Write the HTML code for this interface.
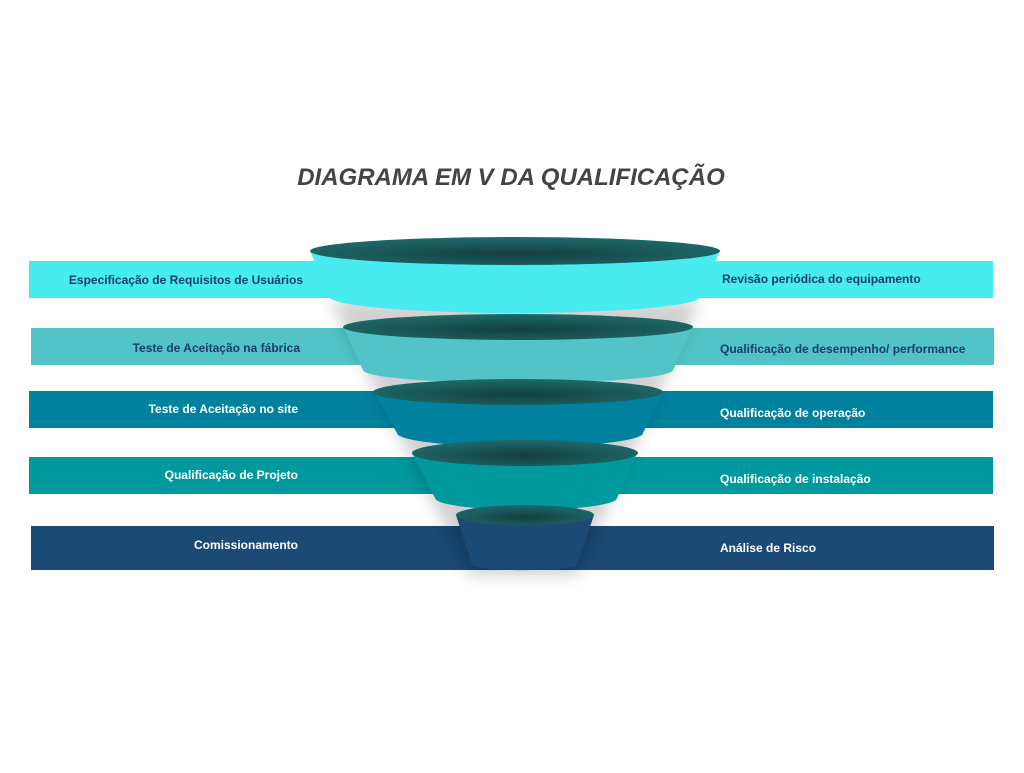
<!DOCTYPE html>
<html><head><meta charset="utf-8"><style>
body{margin:0;background:#fff;width:1024px;height:768px;overflow:hidden;font-family:"Liberation Sans",sans-serif}
</style></head><body>
<svg width="1024" height="768" viewBox="0 0 1024 768" xmlns="http://www.w3.org/2000/svg">
<defs>
<radialGradient id="tg" cx="0.5" cy="0.6" r="0.6">
<stop offset="0" stop-color="#123f40"/><stop offset="1" stop-color="#1f6a6b"/></radialGradient>
<filter id="sh" x="-20%" y="-20%" width="140%" height="140%"><feGaussianBlur stdDeviation="8"/></filter>
</defs>
<text x="511" y="185" text-anchor="middle" font-size="24" font-weight="bold" font-style="italic" fill="#444">DIAGRAMA EM V DA QUALIFICAÇÃO</text>
<rect x="29" y="261" width="964" height="37" fill="#48ECF0"/>
<rect x="31" y="328" width="963" height="37" fill="#52C4C8"/>
<rect x="29" y="391" width="964" height="37" fill="#00819E"/>
<rect x="29" y="457" width="964" height="37" fill="#00999E"/>
<rect x="31" y="526" width="963" height="44" fill="#1B4A76"/>
<path d="M330 300 L470 575 L577 575 L700 300 Z" fill="#000" opacity="0.18" filter="url(#sh)"/>
<path d="M310 251 L330 297 A185 16 0 0 0 700 297 L720 251 Z" fill="#48ECF0"/>
<ellipse cx="515" cy="251" rx="205" ry="14" fill="url(#tg)"/>
<path d="M343 327 L363 370 A155 13 0 0 0 673 370 L693 327 Z" fill="#52C4C8"/>
<ellipse cx="518" cy="327" rx="175" ry="13" fill="url(#tg)"/>
<path d="M374 392 L397 433 A123 14 0 0 0 643 433 L663 392 Z" fill="#00819E"/>
<ellipse cx="518" cy="392" rx="145" ry="13" fill="url(#tg)"/>
<path d="M412 453 L435 498 A91 12 0 0 0 617 498 L637 453 Z" fill="#00999E"/>
<ellipse cx="525" cy="453" rx="113" ry="13" fill="url(#tg)"/>
<path d="M456 515 L472 565 A53 6 0 0 0 577 565 L594 515 Z" fill="#1B4A76"/>
<ellipse cx="525" cy="515" rx="69" ry="10" fill="url(#tg)"/>
<g font-size="12" font-weight="bold">
<text x="303" y="284" text-anchor="end" fill="#1B3D6B">Especificação de Requisitos de Usuários</text>
<text x="300" y="352" text-anchor="end" fill="#1B3D6B">Teste de Aceitação na fábrica</text>
<text x="298" y="413" text-anchor="end" fill="#fff">Teste de Aceitação no site</text>
<text x="298" y="479" text-anchor="end" fill="#fff">Qualificação de Projeto</text>
<text x="298" y="549" text-anchor="end" fill="#fff">Comissionamento</text>
<text x="722" y="283" fill="#1B3D6B">Revisão periódica do equipamento</text>
<text x="720" y="353" fill="#1B3D6B">Qualificação de desempenho/ performance</text>
<text x="720" y="417" fill="#fff">Qualificação de operação</text>
<text x="720" y="483" fill="#fff">Qualificação de instalação</text>
<text x="720" y="552" fill="#fff">Análise de Risco</text>
</g>
</svg>
</body></html>
